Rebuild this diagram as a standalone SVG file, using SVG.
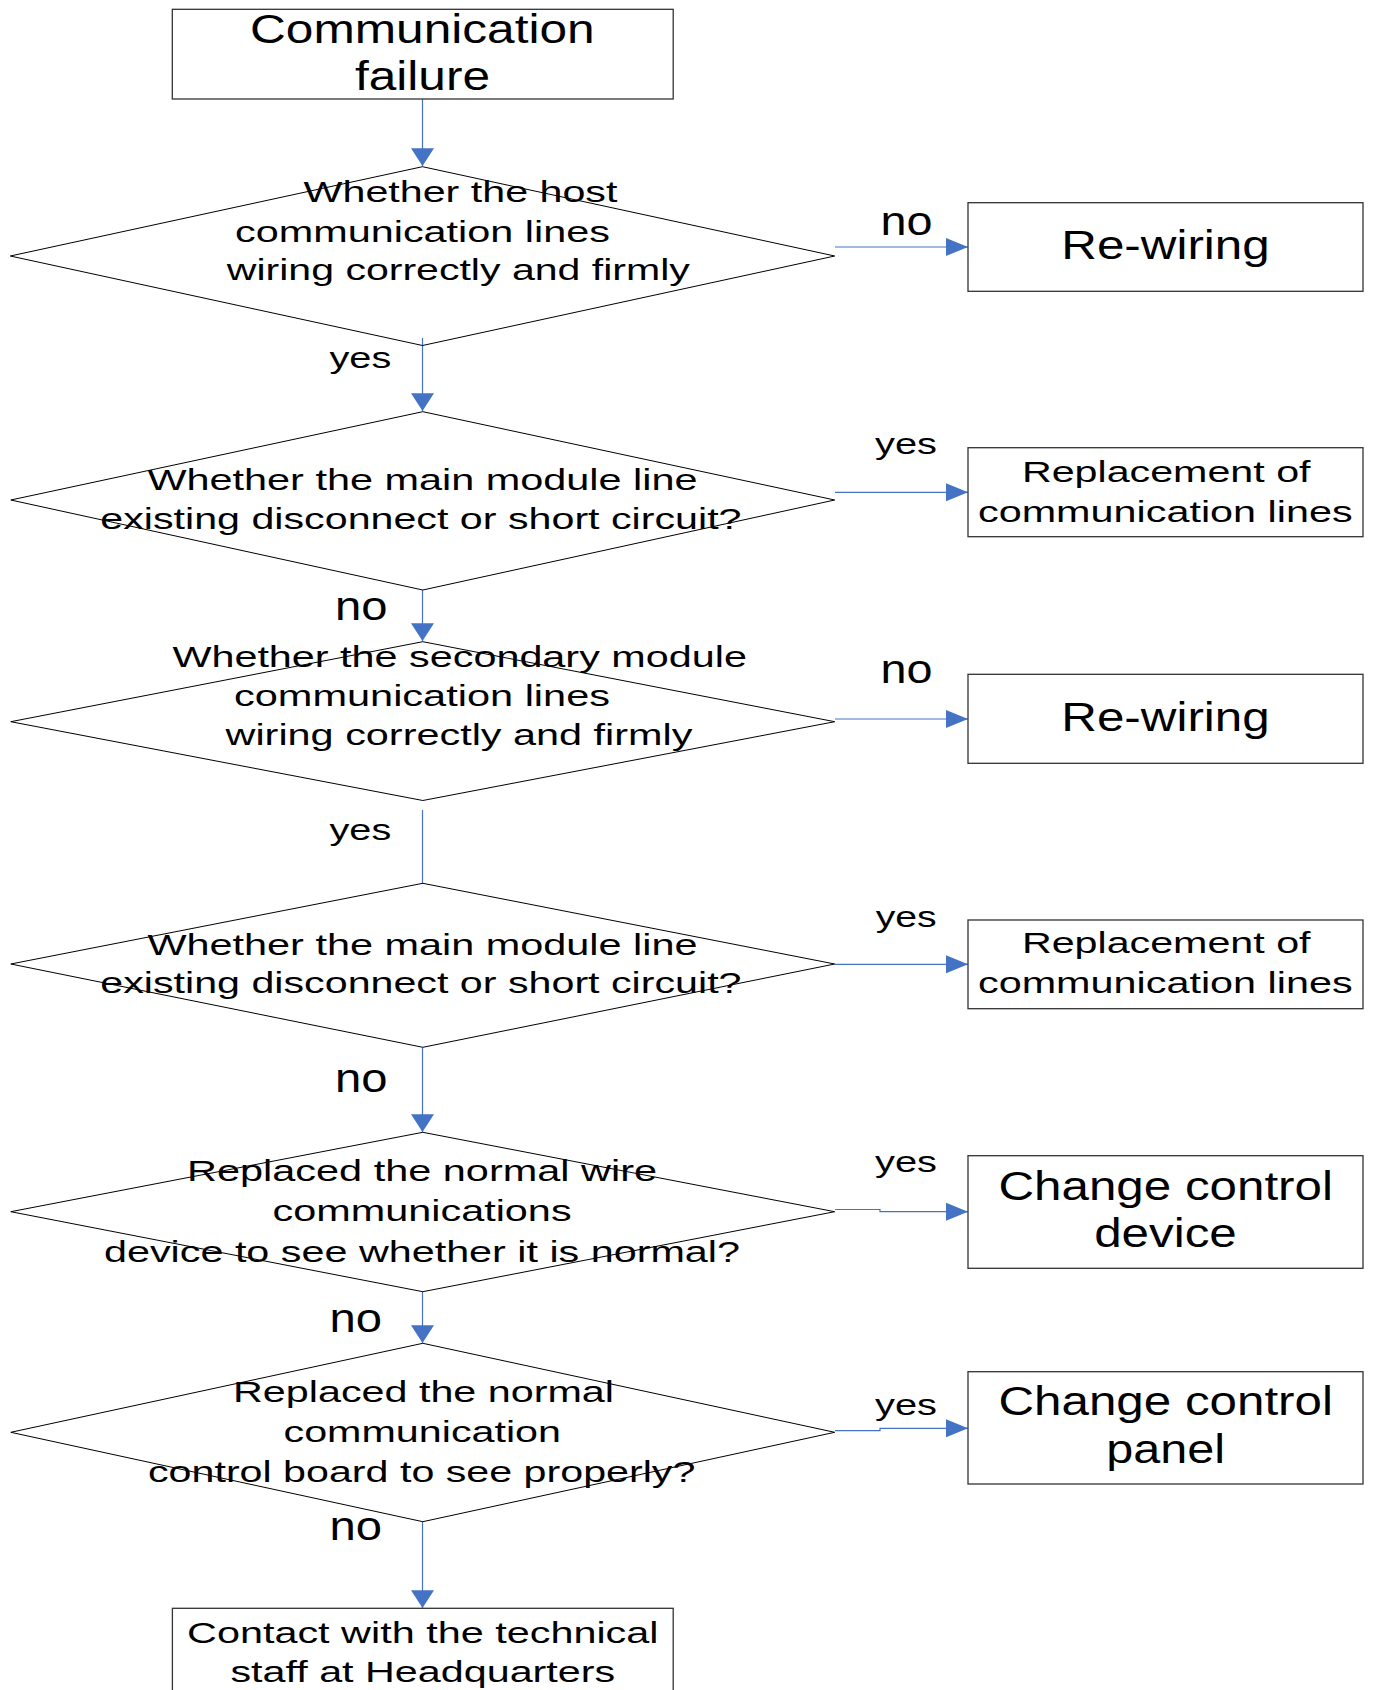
<svg xmlns="http://www.w3.org/2000/svg" width="1373" height="1690" viewBox="0 0 1373 1690">
<style>
text{font-family:"Liberation Sans",Arial,sans-serif;fill:#000}
.big{font-size:40px}
.mid{font-size:30px}
.yes{font-size:30px}
.no{font-size:40px}
.box{fill:#fff;stroke:#333;stroke-width:1.3}
.dia{fill:none;stroke:#000;stroke-width:1}
.con{fill:none;stroke:#4472C4;stroke-width:1.2}
</style>
<defs>
<marker id="aV" markerUnits="userSpaceOnUse" markerWidth="18" markerHeight="23" viewBox="0 0 17 22" refX="17" refY="11" orient="auto"><path d="M0 0L17 11L0 22Z" fill="#4472C4"/></marker>
<marker id="aH" markerUnits="userSpaceOnUse" markerWidth="23" markerHeight="18" viewBox="0 0 22 18" refX="22" refY="9" orient="auto"><path d="M0 0L22 9L0 18Z" fill="#4472C4"/></marker>
</defs>
<rect width="1373" height="1690" fill="#fff"/>
<g id="connectors">
<path class="con" d="M422.5 99V166" marker-end="url(#aV)"/>
<path class="con" d="M835 247H968" marker-end="url(#aH)"/>
<path class="con" d="M422.5 338V411" marker-end="url(#aV)"/>
<path class="con" d="M835 492.3H968" marker-end="url(#aH)"/>
<path class="con" d="M422.5 590V641" marker-end="url(#aV)"/>
<path class="con" d="M835 719H968" marker-end="url(#aH)"/>
<path class="con" d="M422.5 810V883.5"/>
<path class="con" d="M835 964.3H968" marker-end="url(#aH)"/>
<path class="con" d="M422.5 1047.5V1132" marker-end="url(#aV)"/>
<path class="con" d="M835 1209.5H880V1211.7H968" marker-end="url(#aH)"/>
<path class="con" d="M422.5 1291.7V1343" marker-end="url(#aV)"/>
<path class="con" d="M835 1430.7H880V1428.3H968" marker-end="url(#aH)"/>
<path class="con" d="M422.5 1521.7V1608" marker-end="url(#aV)"/>
<text class="no" x="880.4" y="235" textLength="52" lengthAdjust="spacingAndGlyphs">no</text>
<text class="yes" x="329.5" y="368.3" textLength="61.8" lengthAdjust="spacingAndGlyphs">yes</text>
<text class="yes" x="875" y="454" textLength="62" lengthAdjust="spacingAndGlyphs">yes</text>
<text class="no" x="335" y="620" textLength="52.5" lengthAdjust="spacingAndGlyphs">no</text>
<text class="no" x="880.4" y="683.3" textLength="52" lengthAdjust="spacingAndGlyphs">no</text>
<text class="yes" x="329.5" y="840" textLength="61.8" lengthAdjust="spacingAndGlyphs">yes</text>
<text class="yes" x="875.7" y="926.7" textLength="61" lengthAdjust="spacingAndGlyphs">yes</text>
<text class="no" x="335" y="1091.7" textLength="52.5" lengthAdjust="spacingAndGlyphs">no</text>
<text class="yes" x="875" y="1171.7" textLength="62" lengthAdjust="spacingAndGlyphs">yes</text>
<text class="no" x="329.5" y="1331.7" textLength="52.5" lengthAdjust="spacingAndGlyphs">no</text>
<text class="yes" x="875" y="1415" textLength="62" lengthAdjust="spacingAndGlyphs">yes</text>
<text class="no" x="329.5" y="1540" textLength="52.5" lengthAdjust="spacingAndGlyphs">no</text>
</g>
<g id="start">
<rect class="box" x="172.3" y="9.3" width="500.9" height="89.7"/>
<text class="big" x="250" y="43.3" textLength="344.6" lengthAdjust="spacingAndGlyphs">Communication</text>
<text class="big" x="355" y="90" textLength="135" lengthAdjust="spacingAndGlyphs">failure</text>
</g>
<g id="d1">
<polygon class="dia" points="422.5,166.7 834.7,256 422.5,345.5 10.3,256"/>
<text class="mid" x="303.6" y="201.7" textLength="313.8" lengthAdjust="spacingAndGlyphs">Whether the host</text>
<text class="mid" x="235" y="241.7" textLength="375" lengthAdjust="spacingAndGlyphs">communication lines</text>
<text class="mid" x="226.8" y="280" textLength="463" lengthAdjust="spacingAndGlyphs">wiring correctly and firmly</text>
</g>
<g id="rewiring1">
<rect class="box" x="968" y="202.7" width="395" height="88.6"/>
<text class="big" x="1061.3" y="259.3" textLength="208.4" lengthAdjust="spacingAndGlyphs">Re-wiring</text>
</g>
<g id="d2">
<polygon class="dia" points="422.8,411.7 834.7,500 422.8,590 10.8,500"/>
<text class="mid" x="147.4" y="490" textLength="550.2" lengthAdjust="spacingAndGlyphs">Whether the main module line</text>
<text class="mid" x="100.3" y="529.3" textLength="641.2" lengthAdjust="spacingAndGlyphs">existing disconnect or short circuit?</text>
</g>
<g id="replace1">
<rect class="box" x="968" y="447.7" width="395" height="89"/>
<text class="mid" x="1021.9" y="481.7" textLength="288.7" lengthAdjust="spacingAndGlyphs">Replacement of</text>
<text class="mid" x="978" y="521.7" textLength="374.6" lengthAdjust="spacingAndGlyphs">communication lines</text>
</g>
<g id="d3">
<polygon class="dia" points="422.8,641.7 834.7,721.7 422.8,800.5 10.8,721.7"/>
<text class="mid" x="172.4" y="666.7" textLength="574.5" lengthAdjust="spacingAndGlyphs">Whether the secondary module</text>
<text class="mid" x="234" y="706" textLength="376" lengthAdjust="spacingAndGlyphs">communication lines</text>
<text class="mid" x="225.5" y="745" textLength="467" lengthAdjust="spacingAndGlyphs">wiring correctly and firmly</text>
</g>
<g id="rewiring2">
<rect class="box" x="968" y="674.3" width="395" height="89"/>
<text class="big" x="1061.3" y="730.7" textLength="208.4" lengthAdjust="spacingAndGlyphs">Re-wiring</text>
</g>
<g id="d4">
<polygon class="dia" points="422.8,883.3 834.7,964 422.8,1047.3 10.8,964"/>
<text class="mid" x="147.4" y="955" textLength="550.2" lengthAdjust="spacingAndGlyphs">Whether the main module line</text>
<text class="mid" x="100.3" y="993.3" textLength="641.2" lengthAdjust="spacingAndGlyphs">existing disconnect or short circuit?</text>
</g>
<g id="replace2">
<rect class="box" x="968" y="920" width="395" height="88.7"/>
<text class="mid" x="1021.9" y="953.3" textLength="288.7" lengthAdjust="spacingAndGlyphs">Replacement of</text>
<text class="mid" x="978" y="993.3" textLength="374.6" lengthAdjust="spacingAndGlyphs">communication lines</text>
</g>
<g id="d5">
<polygon class="dia" points="422.8,1132.3 834.7,1211.7 422.8,1291.7 10.8,1211.7"/>
<text class="mid" x="187" y="1181" textLength="470" lengthAdjust="spacingAndGlyphs">Replaced the normal wire</text>
<text class="mid" x="272.6" y="1220.7" textLength="299" lengthAdjust="spacingAndGlyphs">communications</text>
<text class="mid" x="104" y="1261.7" textLength="636" lengthAdjust="spacingAndGlyphs">device to see whether it is normal?</text>
</g>
<g id="changedevice">
<rect class="box" x="968" y="1155.7" width="395" height="112.6"/>
<text class="big" x="998.5" y="1200" textLength="334.4" lengthAdjust="spacingAndGlyphs">Change control</text>
<text class="big" x="1094.2" y="1246.7" textLength="142.6" lengthAdjust="spacingAndGlyphs">device</text>
</g>
<g id="d6">
<polygon class="dia" points="422.8,1343.3 834.7,1432.3 422.8,1521.7 10.8,1432.3"/>
<text class="mid" x="233" y="1401.7" textLength="381" lengthAdjust="spacingAndGlyphs">Replaced the normal</text>
<text class="mid" x="283.5" y="1442.3" textLength="277.5" lengthAdjust="spacingAndGlyphs">communication</text>
<text class="mid" x="148" y="1481.7" textLength="547.4" lengthAdjust="spacingAndGlyphs">control board to see properly?</text>
</g>
<g id="changepanel">
<rect class="box" x="968" y="1371.7" width="395" height="112.3"/>
<text class="big" x="998.5" y="1415" textLength="334.4" lengthAdjust="spacingAndGlyphs">Change control</text>
<text class="big" x="1106.3" y="1463.3" textLength="118.7" lengthAdjust="spacingAndGlyphs">panel</text>
</g>
<g id="contact">
<rect class="box" x="172.4" y="1608.3" width="500.8" height="100"/>
<text class="mid" x="187" y="1642.7" textLength="471.5" lengthAdjust="spacingAndGlyphs">Contact with the technical</text>
<text class="mid" x="230.4" y="1682.3" textLength="384.8" lengthAdjust="spacingAndGlyphs">staff at Headquarters</text>
</g>
</svg>
